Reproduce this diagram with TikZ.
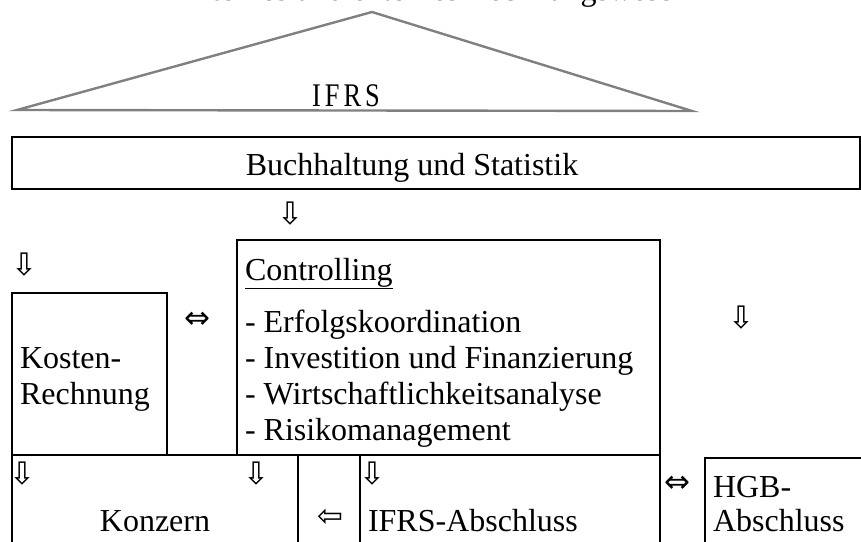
\documentclass[tikz,border=0pt]{standalone}
\usepackage{fontspec}
\setmainfont{Liberation Serif}
\newfontfamily\arrowfont{DejaVu Sans}
\begin{document}
\begin{tikzpicture}[x=1pt,y=-1pt,
  box/.style 2 args={draw=black, line width=1.4pt, inner sep=0pt, outer sep=0pt,
    anchor=north west, minimum width=#1, minimum height=#2},
  txt/.style={inner sep=0pt, outer sep=0pt, font=\fontsize{32}{36}\selectfont},
  sym/.style={inner sep=0pt, outer sep=0pt, font=\arrowfont\fontsize{31}{36}\selectfont},
  roof/.style={draw=black!50, line width=2.4pt, line join=miter}]
\path[use as bounding box, clip] (0,0) rectangle (861,541);

% roof over the whole structure
\coordinate (rl) at (17,110);
\coordinate (rt) at (372,12);
\coordinate (rr) at (692,111);
\draw[roof] (rl) -- (rt) -- (rr) -- cycle;
\node[txt, anchor=base] (title) at (437,0) {Internes und externes Rechnungswesen};
\node[inner sep=0pt, anchor=base, xscale=0.8, transform shape,
  font=\fontsize{33}{36}\selectfont] (ifrs) at (346,106)
  {I\kern5pt F\kern5pt R\kern5pt S};

% boxes
\node[box={848pt}{52pt}] (buch) at (12,137) {};
\node[box={155pt}{162pt}] (kosten) at (12,293) {};
\node[box={423pt}{215pt}] (contr) at (237,240) {};
\node[box={286pt}{120pt}] (konzern) at (12,455) {};
\node[box={300pt}{120pt}] (ifrsab) at (360,455) {};
\node[box={200pt}{120pt}] (hgb) at (705,458) {};

% texts
\node[txt, anchor=base] (tbuch) at (412,175) {Buchhaltung und Statistik};
\node[txt, anchor=base west] (tcontr) at (245,280) {\underline{Controlling}};
\node[txt, anchor=base west] (c1) at (245,332) {- Erfolgskoordination};
\node[txt, anchor=base west] (c2) at (245,368) {- Investition und Finanzierung};
\node[txt, anchor=base west] (c3) at (245,404) {- Wirtschaftlichkeitsanalyse};
\node[txt, anchor=base west] (c4) at (245,440) {- Risikomanagement};
\node[txt, anchor=base west] (k1) at (20,368) {Kosten-};
\node[txt, anchor=base west] (k2) at (20,404) {Rechnung};
\node[txt, anchor=base] (tkonz) at (155,531) {Konzern};
\node[txt, anchor=base west] (tifrs) at (368,531) {IFRS-Abschluss};
\node[txt, anchor=base west] (h1) at (713,497) {HGB-};
\node[txt, anchor=base west] (h2) at (713,531) {Abschluss};

% arrow symbols
\node[sym] (a1) at (290,214) {⇩};
\node[sym] (a2) at (24,265) {⇩};
\node[sym] (a3) at (197,320) {⇔};
\node[sym] (a4) at (741,318) {⇩};
\node[sym] (a5) at (22,474) {⇩};
\node[sym] (a6) at (256,474) {⇩};
\node[sym] (a7) at (372,474) {⇩};
\node[sym] (a8) at (330,518) {⇦};
\node[sym] (a9) at (677,484) {⇔};
\end{tikzpicture}
\end{document}
